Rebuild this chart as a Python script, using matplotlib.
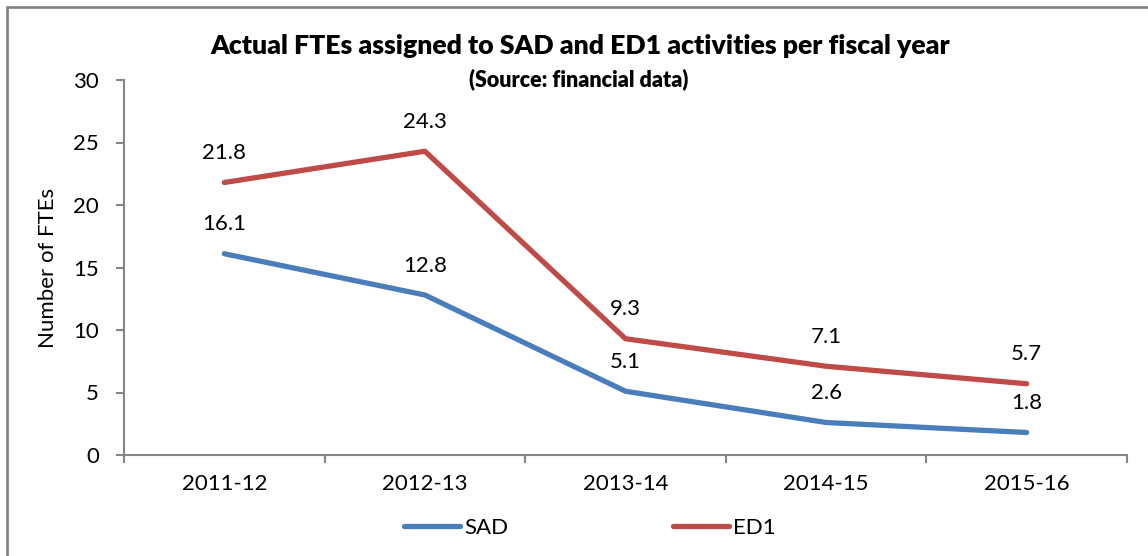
import matplotlib.pyplot as plt
from matplotlib.patches import Rectangle

plt.rcParams['font.family'] = ['Lato', 'DejaVu Sans']

years = ["2011-12", "2012-13", "2013-14", "2014-15", "2015-16"]
sad = [16.1, 12.8, 5.1, 2.6, 1.8]
ed1 = [21.8, 24.3, 9.3, 7.1, 5.7]

W, H = 1148, 556
fig = plt.figure(figsize=(W / 100, H / 100), dpi=100)
ax = fig.add_axes([124 / W, 1 - 455 / H, (1127 - 124) / W, (455 - 80) / H])

# chart border
fig.patches.append(Rectangle((7 / W, -0.05), 1.2, 1 - 7 / H + 0.05, transform=fig.transFigure,
                             fill=False, edgecolor="#868686", linewidth=2))

x = list(range(len(years)))
ax.plot(x, sad, color="#4A7EBB", linewidth=3.8, solid_capstyle="round", label="SAD")
ax.plot(x, ed1, color="#BE4B48", linewidth=3.8, solid_capstyle="round", label="ED1")

for xi, v in zip(x, sad):
    ax.annotate(f"{v}", (xi, v), xytext=(0, 14), textcoords="offset points",
                ha="center", va="bottom", fontsize=16)
for xi, v in zip(x, ed1):
    ax.annotate(f"{v}", (xi, v), xytext=(0, 14), textcoords="offset points",
                ha="center", va="bottom", fontsize=16)

ax.set_xlim(-0.5, len(years) - 0.5)
ax.set_ylim(0, 30)
ax.set_yticks(range(0, 31, 5))
ax.set_xticks(x)
ax.set_xticklabels(years)
ax.set_xticks([i - 0.5 for i in range(len(years) + 1)], minor=True)
ax.tick_params(axis="x", which="major", length=0, pad=14, labelsize=16)
ax.tick_params(axis="x", which="minor", length=6, color="#868686", width=1.5)
ax.tick_params(axis="y", length=6, color="#868686", width=1.5, pad=12, labelsize=16)

for s in ["top", "right"]:
    ax.spines[s].set_visible(False)
for s in ["left", "bottom"]:
    ax.spines[s].set_color("#868686")
    ax.spines[s].set_linewidth(1.5)

ax.set_ylabel("Number of FTEs", fontsize=16, labelpad=11)

fig.text(580 / W, 1 - 46 / H, "Actual FTEs assigned to SAD and ED1 activities per fiscal year",
         ha="center", va="center", fontsize=19.2, fontweight="heavy")
fig.text(579 / W, 1 - 79 / H, "(Source: financial data)",
         ha="center", va="center", fontsize=15.5, fontweight="heavy")

fig.legend(loc="center", bbox_to_anchor=(590 / W, 1 - 528 / H), ncol=2, frameon=False,
           fontsize=16, handlelength=2.5, columnspacing=7.4, handletextpad=0.2)

fig.savefig("out.png", dpi=100)
